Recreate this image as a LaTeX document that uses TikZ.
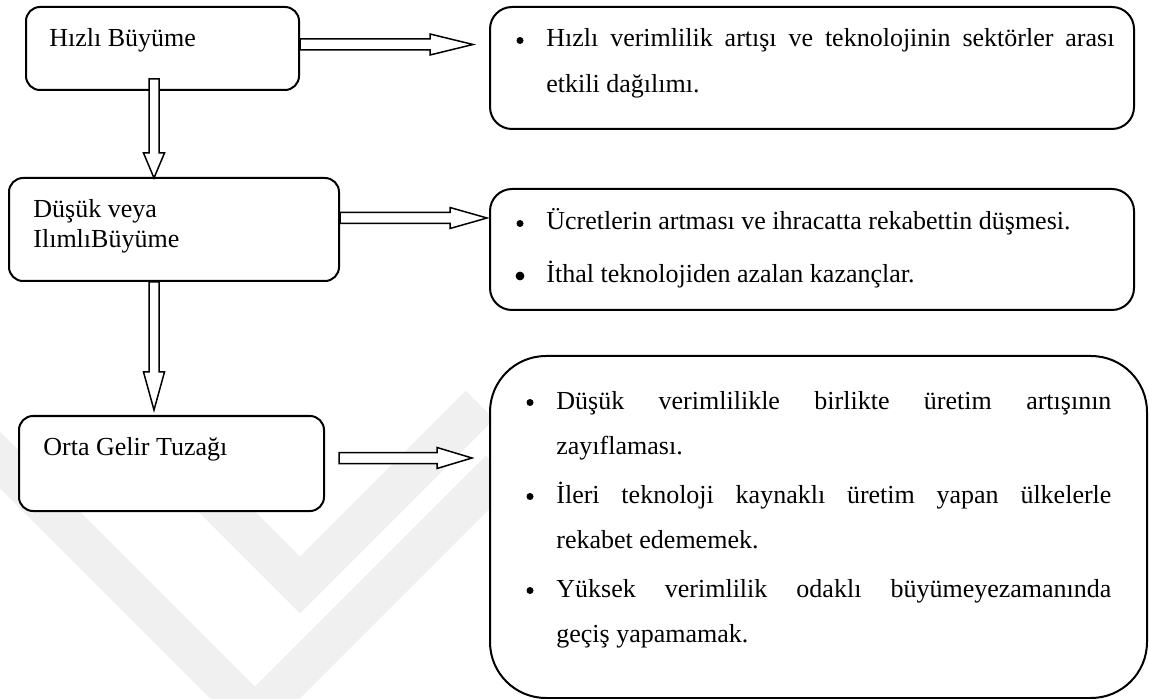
\documentclass[tikz,border=0pt]{standalone}
\usepackage{fontspec}
\setmainfont{Liberation Serif}
\usetikzlibrary{calc}

\hyphenpenalty=10000
\exhyphenpenalty=10000
\tolerance=10000

\tikzset{
  kutu/.style={draw, line width=1pt, fill=white, anchor=north west, inner sep=0pt, rounded corners=7pt},
  yazi/.style={anchor=base west, inner sep=0pt, font=\fontsize{13}{15}\selectfont},
  madde/.style={anchor=base west, inner sep=0pt, align=justify},
  okbos/.style={draw, line width=0.75pt, fill=white, line join=miter},
  filigran/.style={draw=black!6, line width=20pt, line cap=butt, line join=miter},
}

% hollow block arrows: start, tip, head length
\newcommand{\yatayok}[3]{%
  \draw[okbos] ($(#1)+(0,-5.5)$) -- ($(#2)+(-#3,-5.5)$) -- ($(#2)+(-#3,-10.5)$) -- (#2)
    -- ($(#2)+(-#3,10.5)$) -- ($(#2)+(-#3,5.5)$) -- ($(#1)+(0,5.5)$) -- cycle;}
\newcommand{\dikeyok}[3]{%
  \draw[okbos] ($(#1)+(-5,0)$) -- ($(#2)+(-5,-#3)$) -- ($(#2)+(-10.5,-#3)$) -- (#2)
    -- ($(#2)+(10.5,-#3)$) -- ($(#2)+(5,-#3)$) -- ($(#1)+(5,0)$) -- cycle;}

\begin{document}
\begin{tikzpicture}[x=0.5pt, y=-0.5pt]
    \useasboundingbox (0,0) rectangle (1149,699);

%   faint watermark in the background
    \draw[filigran] (-20,440) -- (255,715) -- (500,470);
    \draw[filigran] (160,445) -- (300,585) -- (480,405);

%   left column
    \node[kutu, minimum width=136.5pt, minimum height=41.5pt] (hizli) at (25,6) {};
    \node[kutu, minimum width=165pt, minimum height=51.5pt] (dusuk) at (8,177) {};
    \node[kutu, minimum width=152.5pt, minimum height=47.5pt] (orta) at (18,415) {};

%   right column
    \node[kutu, rounded corners=11pt, minimum width=322pt, minimum height=61pt] (s1) at (489,6) {};
    \node[kutu, rounded corners=11pt, minimum width=322pt, minimum height=60.5pt] (s2) at (489,188) {};
    \node[kutu, rounded corners=28pt, minimum width=328.5pt, minimum height=171pt] (s3) at (489,355) {};

    \node[yazi] (t1) at (49,47) {Hızlı Büyüme};
    \node[yazi] (t2a) at (33,218) {Düşük veya};
    \node[yazi] (t2b) at (33,248) {IlımlıBüyüme};
    \node[yazi] (t3) at (43,455) {Orta Gelir Tuzağı};

    \node[madde, text width=284pt, font=\fontsize{13}{23}\selectfont] (m1) at (546,47)
        {Hızlı verimlilik artışı ve teknolojinin sektörler arası etkili dağılımı.};
    \node[yazi] (m2a) at (546,230) {Ücretlerin artması ve ihracatta rekabettin düşmesi.};
    \node[yazi] (m2b) at (546,283) {İthal teknolojiden azalan kazançlar.};
    \node[madde, text width=277.5pt, font=\fontsize{13}{22.5}\selectfont] (m3a) at (556,409)
        {Düşük verimlilikle birlikte üretim artışının\linebreak zayıflaması.};
    \node[madde, text width=277.5pt, font=\fontsize{13}{22.5}\selectfont] (m3b) at (556,503)
        {İleri teknoloji kaynaklı üretim yapan ülkelerle\linebreak rekabet edememek.};
    \node[madde, text width=277.5pt, font=\fontsize{13}{22.5}\selectfont] (m3c) at (556,597)
        {Yüksek verimlilik odaklı büyümeyezamanında\linebreak geçiş yapamamak.};

%   bullets
    \foreach \m in {m1,m2a,m3a,m3b,m3c}
        \fill ($(\m.base west)+(-26,-6.5)$) circle (1.75pt);
    \fill ($(m2b.base west)+(-26,-7)$) circle (2.2pt);

%   arrows
    \coordinate (o1u) at ($(s1.north west)+(-16,38.5)$);
    \coordinate (o1b) at (hizli.east |- o1u);
    \yatayok{o1b}{o1u}{43}
    \coordinate (o2u) at ($(s2.north west)+(-2,30)$);
    \coordinate (o2b) at (dusuk.east |- o2u);
    \yatayok{o2b}{o2u}{37}
    \coordinate (o3u) at ($(s3.north west)+(-17,103)$);
    \coordinate (o3b) at ($(orta.east |- o3u)+(14,0)$);
    \yatayok{o3b}{o3u}{35}

    \coordinate (d1u) at ($(dusuk.north west)+(146,1)$);
    \coordinate (d1b) at ($(d1u |- hizli.south)+(0,-12)$);
    \dikeyok{d1b}{d1u}{25}
    \coordinate (d2u) at ($(orta.north west)+(136,-5)$);
    \coordinate (d2b) at (d2u |- dusuk.south);
    \dikeyok{d2b}{d2u}{38}

\end{tikzpicture}
\end{document}
